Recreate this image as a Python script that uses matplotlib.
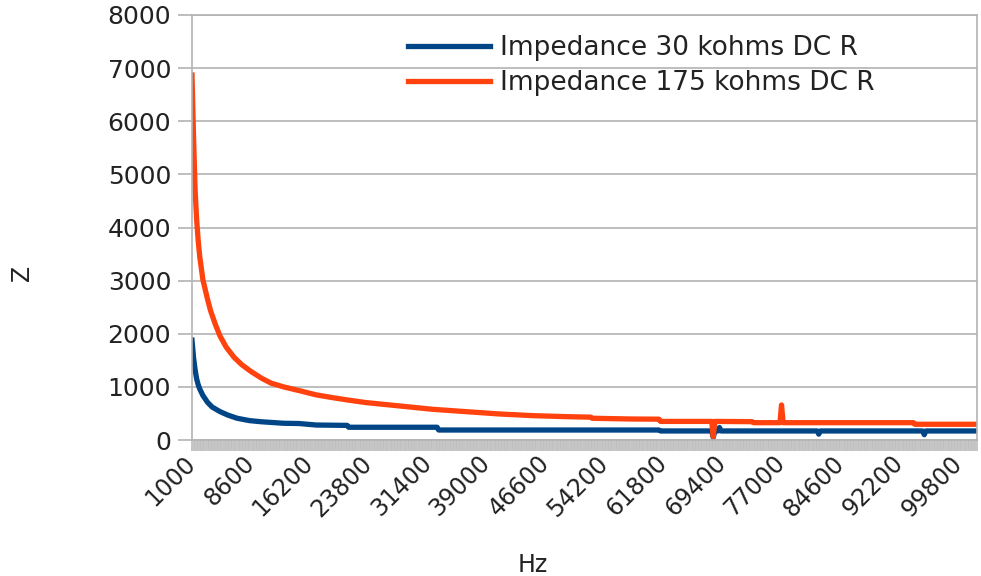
import matplotlib.pyplot as plt
from matplotlib.ticker import MultipleLocator, FixedLocator

# frequency (Hz) and impedance readings for each device
freq_30k = [1000, 1200, 1400, 1600, 1800, 2000, 2400, 3000, 3600, 4600, 5600, 6800,
            8400, 9800, 12800, 14800, 17000, 21000, 21200, 32600, 32800, 61200, 61400,
            68000, 68200, 68400, 68800, 69000, 69200, 81600, 81800, 82000, 95200, 95400,
            95600, 102200]
z_30k = [1880, 1550, 1320, 1150, 1040, 960, 840, 710, 620, 535, 470, 410,
         365, 345, 315, 310, 282, 275, 240, 240, 188, 188, 170,
         170, 50, 170, 170, 235, 170, 170, 110, 170, 170, 100,
         170, 170]

freq_175k = [1000, 1200, 1400, 1600, 1800, 2000, 2400, 3000, 3400, 4000, 4600, 5400,
             6400, 7400, 8600, 10000, 11200, 12800, 14800, 17000, 19000, 21200, 23400,
             27800, 32000, 36400, 40600, 45000, 49400, 52400, 52600, 57800, 61200, 61400,
             68000, 68200, 68400, 73200, 73400, 76800, 77000, 77200, 94000, 94200, 102200]
z_175k = [6870, 5700, 4700, 4150, 3750, 3450, 3020, 2650, 2430, 2180, 1960, 1750,
          1560, 1420, 1290, 1160, 1070, 1000, 930, 850, 800, 750, 705,
          640, 578, 533, 490, 458, 439, 430, 409, 395, 392, 350,
          350, 60, 350, 345, 326, 326, 660, 326, 326, 296, 296]

tick_freqs = list(range(1000, 100000, 7600))
tick_labels = [str(f) for f in tick_freqs]

grey = "#b3b3b3"
text_col = "#222222"

fig = plt.figure(figsize=(9.81, 5.76), dpi=100)
ax = fig.add_axes([192 / 981, 1 - 440 / 576, (977 - 192) / 981, (440 - 15) / 576])

ax.plot(freq_30k, z_30k, color="#004586", lw=3.8, solid_joinstyle="round",
        label="Impedance 30 kohms DC R")
ax.plot(freq_175k, z_175k, color="#ff420e", lw=3.8, solid_joinstyle="round",
        label="Impedance 175 kohms DC R")

ax.set_xlim(1000, 102200)
ax.set_ylim(0, 8000)

ax.yaxis.set_major_locator(MultipleLocator(1000))
ax.grid(axis="y", color=grey, lw=1.2)
ax.set_axisbelow(True)

# every 200 Hz category gets a tick, which makes the grey band under the axis
ax.xaxis.set_major_locator(FixedLocator(tick_freqs))
ax.xaxis.set_minor_locator(MultipleLocator(200))
ax.set_xticklabels(tick_labels)
ax.tick_params(axis="x", which="both", direction="out", length=8, width=1.3,
               color="#c0c0c0", pad=6, labelsize=17, labelcolor=text_col)
for lab in ax.get_xticklabels():
    lab.set_rotation(45)
    lab.set_ha("right")
    lab.set_va("center")
    lab.set_rotation_mode("anchor")

ax.tick_params(axis="y", direction="out", length=10, width=1.2, color=grey,
               pad=5, labelsize=18, labelcolor=text_col)

for s in ax.spines.values():
    s.set_color(grey)
    s.set_linewidth(1.2)

fig.text(533 / 981, 1 - 565 / 576, "Hz", fontsize=17, color=text_col,
         ha="center", va="center")
fig.text(22 / 981, 1 - 273 / 576, "Z", fontsize=17, color=text_col,
         ha="center", va="center", rotation=90)

ax.legend(loc="upper left", bbox_to_anchor=(408 / 981, 1 - 35 / 576),
          bbox_transform=fig.transFigure, frameon=False, fontsize=19,
          handlelength=3.1, handletextpad=0.4, labelspacing=0.34,
          borderpad=0, borderaxespad=0, labelcolor=text_col)

fig.savefig("out.png", dpi=100)
